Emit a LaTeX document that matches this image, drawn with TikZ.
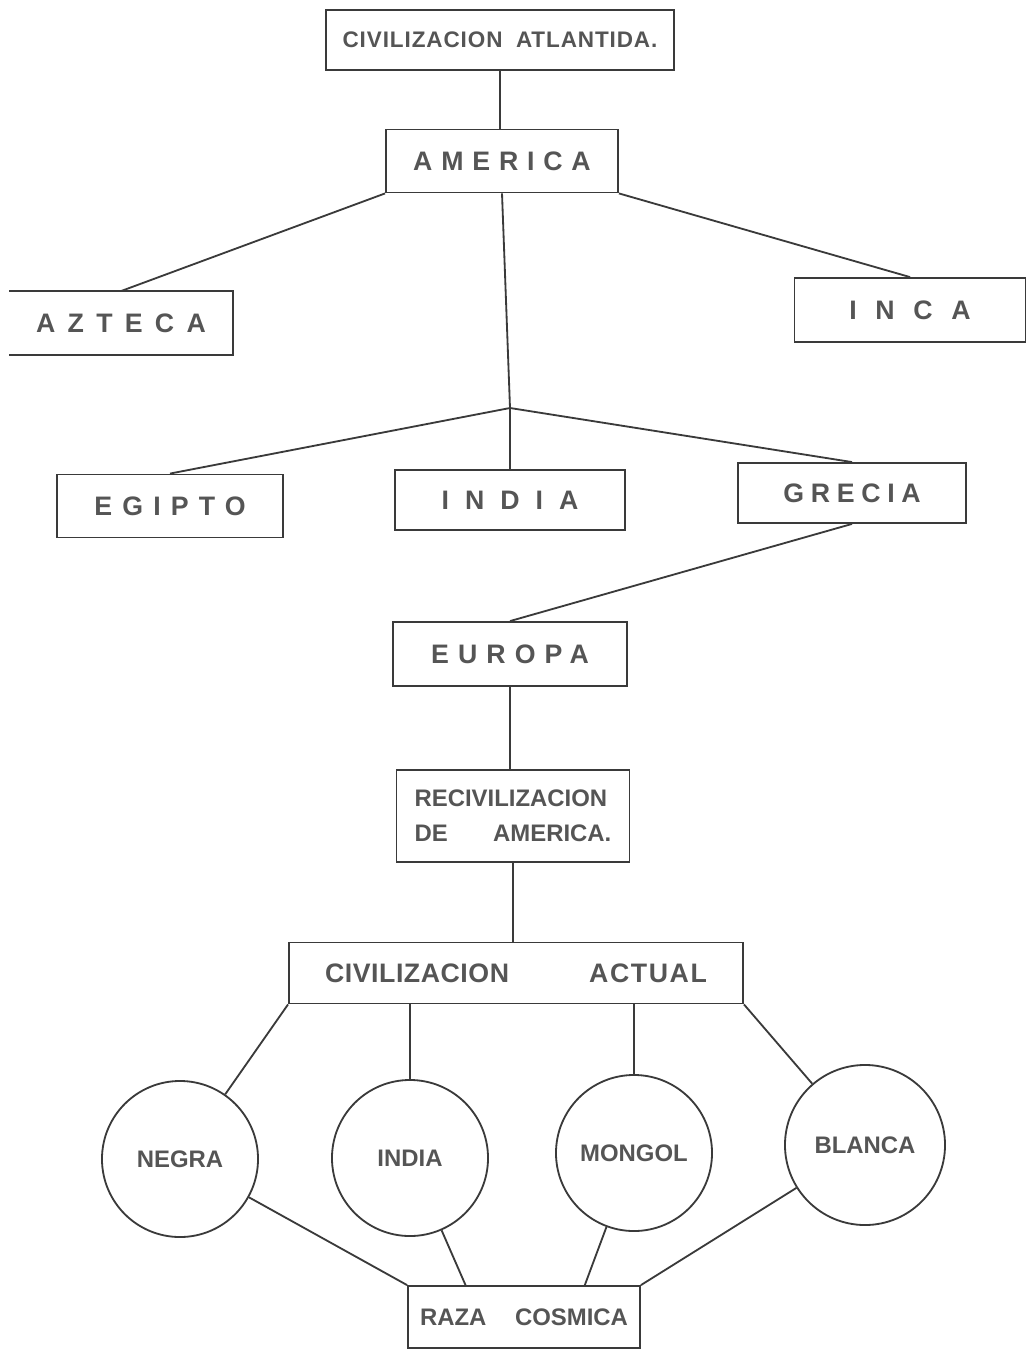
\documentclass[tikz,border=0pt]{standalone}
\usepackage{fontspec}
\setmainfont{Liberation Sans}
\usetikzlibrary{calc}
\definecolor{tinta}{HTML}{555555}
\definecolor{trazo}{HTML}{3A3A3A}
\newcommand\espaciado[2]{{\addfontfeature{LetterSpace=#1}#2}}

\begin{document}
\begin{tikzpicture}[x=0.025cm, y=-0.025cm,
        caja/.style={draw=trazo, line width=1.3pt, inner sep=0pt, text=tinta,
            font=\fontsize{19}{22}\selectfont\bfseries},
        raza/.style={draw=trazo, line width=1.3pt, circle, inner sep=0pt,
            minimum size=3.9cm, text=tinta, font=\fontsize{17}{20}\selectfont\bfseries},
        enlace/.style={draw=trazo, line width=1.3pt}]
        \def \ancho {5.8cm}   % width of the usual box
        \def \alto {1.55cm}   % height of the usual box
        % page frame
        \useasboundingbox (0,0) rectangle (1030,1352);
        % origin
        \node[caja, minimum width=8.7cm, minimum height=1.5cm,
            font=\fontsize{16}{18}\selectfont\bfseries] (atlantida) at (500,40)
            {\espaciado{4}{CIVILIZACION\hspace{0.6em}ATLANTIDA.}};
        \node[caja, minimum width=\ancho, minimum height=1.575cm] (america) at (502,161)
            {\espaciado{33}{AMERICA}\hspace{0.38cm}};
        % american peoples
        \node[caja, draw=none, minimum width=5.55cm, minimum height=\alto] (azteca) at (121,323)
            {\espaciado{46}{AZTECA}\hspace{0.4cm}};
        \draw[enlace] (azteca.north west) -- (azteca.north east) --
            (azteca.south east) -- (azteca.south west);
        \node[caja, minimum width=5.775cm, minimum height=1.6cm] (inca) at (910,310)
            {\espaciado{70}{INCA}};
        % old world
        \coordinate (cruce) at (510,408);
        \node[caja, minimum width=5.65cm, minimum height=1.575cm] (egipto) at (170,506)
            {\espaciado{38}{EGIPTO}\hspace{0.63cm}};
        \node[caja, minimum width=5.75cm, minimum height=1.5cm] (india) at (510,500)
            {\espaciado{60}{INDIA}\hspace{0.45cm}};
        \node[caja, minimum width=5.7cm, minimum height=1.5cm] (grecia) at (852,493)
            {\espaciado{25}{GRECIA}};
        \node[caja, minimum width=5.85cm, minimum height=1.6cm] (europa) at (510,654)
            {\espaciado{34}{EUROPA}\hspace{0.33cm}};
        % back to america
        \node[caja, minimum width=5.825cm, minimum height=2.3cm, align=left,
            font=\fontsize{17}{25}\selectfont\bfseries] (recivilizacion) at (513,816)
            {RECIVILIZACION\\DE\hspace{1.9em}AMERICA.};
        \node[caja, minimum width=11.35cm, minimum height=1.525cm] (actual) at (516,973)
            {\espaciado{2}{CIVILIZACION}\hspace{2cm}\espaciado{6}{ACTUAL}\hspace{0.85cm}};
        % races
        \node[raza] (negra) at (180,1159) {NEGRA};
        \node[raza] (indias) at (410,1158) {INDIA};
        \node[raza] (mongol) at (634,1153) {MONGOL};
        \node[raza, minimum size=4cm] (blanca) at (865,1145) {BLANCA};
        \node[caja, minimum width=\ancho, minimum height=\alto,
            font=\fontsize{17}{20}\selectfont\bfseries] (cosmica) at (524,1317)
            {RAZA\hspace{1.2em}COSMICA};
        % connectors
        \draw[enlace] (atlantida.south) -- (atlantida.south |- america.north);
        \draw[enlace] (america.south west) -- (azteca.north);
        \draw[enlace] (america.south east) -- (inca.north);
        \draw[enlace] (america.south) -- (cruce);
        \draw[enlace] (cruce) -- (egipto.north);
        \draw[enlace] (cruce) -- (india.north);
        \draw[enlace] (cruce) -- (grecia.north);
        \draw[enlace] (grecia.south) -- (europa.north);
        \draw[enlace] (europa.south) -- (europa.south |- recivilizacion.north);
        \draw[enlace] (recivilizacion.south) -- (recivilizacion.south |- actual.north);
        \draw[enlace] (actual.south west) -- (negra);
        \draw[enlace] (actual.south -| indias.north) -- (indias.north);
        \draw[enlace] (actual.south -| mongol.north) -- (mongol.north);
        \draw[enlace] (actual.south east) -- (blanca);
        \draw[enlace] (negra) -- (cosmica.north west);
        \draw[enlace] (indias) -- ($(cosmica.north west)!0.25!(cosmica.north east)$);
        \draw[enlace] (mongol) -- ($(cosmica.north west)!0.76!(cosmica.north east)$);
        \draw[enlace] (blanca) -- (cosmica.north east);
\end{tikzpicture}
\end{document}
